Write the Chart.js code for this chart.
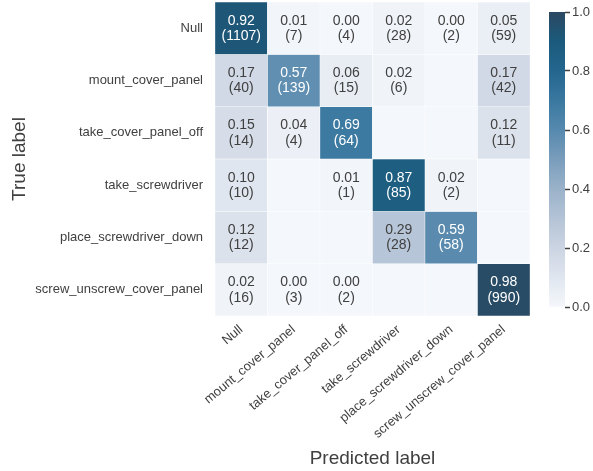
<!DOCTYPE html>
<html>
<head>
<meta charset="utf-8">
<script src="https://cdn.jsdelivr.net/npm/chart.js@4.4.1/dist/chart.umd.min.js"></script>
<style>
  html, body { margin: 0; padding: 0; background: #fff; }
  #wrap { position: relative; width: 593px; height: 471px; }
  #cm { position: absolute; left: 0; top: 0; }
  #cbar { position: absolute; left: 540px; top: 0; }
</style>
</head>
<body>
<div id="wrap">
  <canvas id="cm" width="593" height="471"></canvas>
  <canvas id="cbar" width="53" height="471"></canvas>
</div>
<script>
// Confusion matrix (normalized per true label, counts in brackets)

const predictedLabels = ['Null', 'mount_cover_panel', 'take_cover_panel_off',
    'take_screwdriver', 'place_screwdriver_down', 'screw_unscrew_cover_panel'];
const trueLabels = predictedLabels.slice();

// null = empty cell (no prediction)
const ratioNull    = [0.92, 0.01, 0.00, 0.02, 0.00, 0.05];
const ratioMount   = [0.17, 0.57, 0.06, 0.02, null, 0.17];
const ratioTakeOff = [0.15, 0.04, 0.69, null, null, 0.12];
const ratioTakeSd  = [0.10, null, 0.01, 0.87, 0.02, null];
const ratioPlaceSd = [0.12, null, null, 0.29, 0.59, null];
const ratioScrew   = [0.02, 0.00, 0.00, null, null, 0.98];

const countNull    = [1107, 7, 4, 28, 2, 59];
const countMount   = [40, 139, 15, 6, null, 42];
const countTakeOff = [14, 4, 64, null, null, 11];
const countTakeSd  = [10, null, 1, 85, 2, null];
const countPlaceSd = [12, null, null, 28, 58, null];
const countScrew   = [16, 3, 2, null, null, 990];

const colorbarTicks = [0, 0.2, 0.4, 0.6, 0.8, 1.0];

const ratios = [ratioNull, ratioMount, ratioTakeOff, ratioTakeSd, ratioPlaceSd, ratioScrew];
const counts = [countNull, countMount, countTakeOff, countTakeSd, countPlaceSd, countScrew];

const FONT = '"Liberation Sans", Arial, sans-serif';
const TEXT = '#404040';

const cmapStops = [
    [0.0, [244, 247, 251]],
    [0.1, [224, 230, 239]],
    [0.2, [203, 212, 226]],
    [0.3, [180, 195, 214]],
    [0.4, [154, 178, 201]],
    [0.5, [122, 157, 188]],
    [0.6, [86, 137, 174]],
    [0.7, [58, 120, 160]],
    [0.8, [35, 102, 142]],
    [0.9, [27, 90, 124]],
    [1.0, [44, 72, 97]],
];

function cmap(v) {
    v = Math.max(0, Math.min(1, v || 0));
    for (let i = 1; i < cmapStops.length; i++) {
        const [p1, c1] = cmapStops[i];
        const [p0, c0] = cmapStops[i - 1];
        if (v <= p1) {
            const t = (v - p0) / (p1 - p0);
            const c = c0.map((a, k) => Math.round(a + (c1[k] - a) * t));
            return `rgb(${c[0]},${c[1]},${c[2]})`;
        }
    }
    return 'rgb(44,72,97)';
}

// annotations drawn in the middle of each bar element
const cellText = {
    id: 'cellText',
    afterDatasetsDraw(chart) {
        const ctx = chart.ctx;
        ctx.save();
        ctx.font = '14px ' + FONT;
        ctx.textAlign = 'center';
        ctx.textBaseline = 'middle';
        chart.data.datasets.forEach((ds, r) => {
            chart.getDatasetMeta(r).data.forEach((bar, c) => {
                const v = ratios[r][c];
                if (v == null) return;
                const cy = (bar.y + bar.base) / 2;
                ctx.fillStyle = v > 0.5 ? '#ffffff' : TEXT;
                ctx.fillText(v.toFixed(2), bar.x, cy - 7.5);
                ctx.fillText('(' + counts[r][c] + ')', bar.x, cy + 8);
            });
        });
        ctx.restore();
    }
};

// one stacked dataset per true label, each cell has unit height
const datasets = trueLabels.map((name, r) => ({
    label: name,
    data: ratios[r].map(() => 1),
    backgroundColor: ratios[r].map(v => cmap(v)),
    borderColor: '#ffffff',
    borderWidth: 0.5,
    borderSkipped: false,
    barPercentage: 1,
    categoryPercentage: 1,
}));

new Chart(document.getElementById('cm'), {
    type: 'bar',
    data: { labels: predictedLabels, datasets },
    options: {
        responsive: false,
        animation: false,
        events: [],
        layout: { padding: { top: 2, right: 63, bottom: 0, left: 0 } },
        plugins: { legend: { display: false }, tooltip: { enabled: false } },
        scales: {
            x: {
                stacked: true,
                grid: { display: false, drawTicks: false },
                border: { display: false },
                ticks: {
                    color: TEXT,
                    font: { family: FONT, size: 13 },
                    minRotation: 40,
                    maxRotation: 40,
                    autoSkip: false,
                    padding: 6,
                },
                title: {
                    display: true,
                    text: 'Predicted label',
                    color: TEXT,
                    font: { family: FONT, size: 19 },
                    padding: { top: 0, bottom: 1 },
                },
                afterFit(scale) { scale.height = 155; },
            },
            y: {
                stacked: true,
                reverse: true,
                min: 0,
                max: trueLabels.length,
                display: false,
            },
            y2: {
                type: 'category',
                position: 'left',
                labels: trueLabels,
                offset: true,
                grid: { display: false, drawTicks: false },
                border: { display: false },
                ticks: {
                    color: TEXT,
                    font: { family: FONT, size: 13 },
                    padding: 12,
                },
                title: {
                    display: true,
                    text: 'True label',
                    color: TEXT,
                    font: { family: FONT, size: 19 },
                    padding: { top: 8, bottom: 0 },
                },
                afterFit(scale) {
                    scale.width = 215;
                    scale.paddingTop = 0;
                    scale.paddingBottom = 0;
                },
            },
        },
    },
    plugins: [cellText],
});

// colour bar: a single floating bar filled with the colour map
new Chart(document.getElementById('cbar'), {
    type: 'bar',
    data: {
        labels: ['cb'],
        datasets: [{
            data: [[colorbarTicks[0], colorbarTicks[colorbarTicks.length - 1]]],
            backgroundColor(context) {
                const { chart } = context;
                const area = chart.chartArea;
                if (!area || !isFinite(area.top) || !isFinite(area.bottom)) return cmap(0.5);
                const g = chart.ctx.createLinearGradient(0, area.bottom, 0, area.top);
                for (let i = 0; i <= 20; i++) g.addColorStop(i / 20, cmap(i / 20));
                return g;
            },
            borderWidth: 0,
            barPercentage: 1,
            categoryPercentage: 1,
        }],
    },
    options: {
        responsive: false,
        animation: false,
        events: [],
        layout: { padding: { top: 12, right: 0, bottom: 164, left: 9 } },
        plugins: { legend: { display: false }, tooltip: { enabled: false } },
        scales: {
            x: { display: false },
            y: {
                position: 'right',
                min: 0,
                max: 1,
                afterBuildTicks(scale) { scale.ticks = colorbarTicks.map(v => ({ value: v })); },
                grid: { drawOnChartArea: false, tickLength: 5, tickColor: TEXT, tickWidth: 1.5 },
                border: { display: false },
                ticks: {
                    color: TEXT,
                    font: { family: FONT, size: 13 },
                    padding: 2,
                    callback: v => Number(v).toFixed(1),
                },
                afterFit(scale) { scale.width = 28; },
            },
        },
    },
});
</script>
</body>
</html>
